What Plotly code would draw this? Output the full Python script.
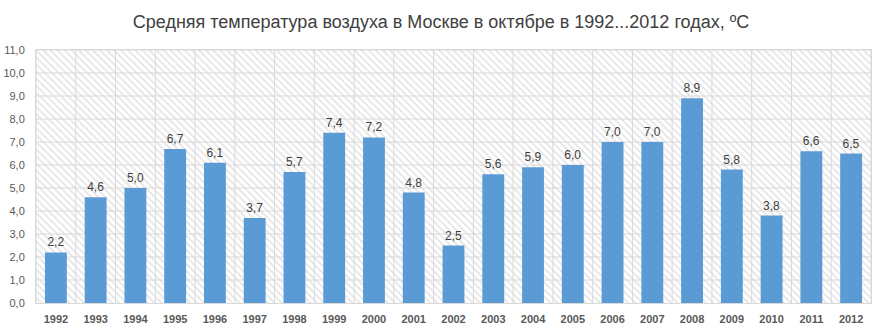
import plotly.graph_objects as go

years = [str(y) for y in range(1992, 2013)]
temps = [2.2, 4.6, 5.0, 6.7, 6.1, 3.7, 5.7, 7.4, 7.2, 4.8, 2.5,
         5.6, 5.9, 6.0, 7.0, 7.0, 8.9, 5.8, 3.8, 6.6, 6.5]
y_ticks = [i for i in range(0, 12)]
y_max = 11
title_text = "Средняя температура воздуха в Москве в октябре в 1992...2012 годах, ºС"

FONT = "Liberation Sans"
GREY = "#595959"
GRID = "#d9d9d9"

pos = list(range(len(years)))
x_range = [-0.5, len(years) - 0.5]

fig = go.Figure()

# hatched plot-area background, one full-height cell per category
fig.add_trace(go.Bar(
    x=pos, y=[y_max] * len(years), width=1,
    marker=dict(color="#cccccc", line=dict(width=0),
                pattern=dict(shape="\\", fgcolor="#cccccc", bgcolor="white",
                             fillmode="overlay", size=5, solidity=0.35)),
    hoverinfo="skip", showlegend=False,
))

# grid lines over the hatching (same subplot, below the value bars)
gx, gy = [], []
for v in y_ticks[1:]:
    gx += [x_range[0], x_range[1], None]
    gy += [v, v, None]
for i in range(len(years) + 1):
    gx += [i - 0.5, i - 0.5, None]
    gy += [0, y_max, None]
fig.add_trace(go.Scatter(x=gx, y=gy, mode="lines", line=dict(color=GRID, width=1),
                         hoverinfo="skip", showlegend=False, cliponaxis=False))

# value bars on an overlaid subplot so they sit above the grid
fig.add_trace(go.Bar(
    x=pos, y=temps, width=0.55, xaxis="x2", yaxis="y2",
    marker=dict(color="#5B9BD5", line=dict(width=0)),
    text=[f"{v:.1f}".replace(".", ",") for v in temps],
    textposition="outside", cliponaxis=False,
    textfont=dict(family=FONT, size=12, color="#404040"),
    showlegend=False,
))

fig.update_layout(
    width=882, height=328,
    margin=dict(l=36, r=11, t=50, b=25),
    paper_bgcolor="white", plot_bgcolor="white",
    barmode="overlay",
    separators=", ",
    title=dict(text=title_text, x=0.5, xanchor="center", y=0.935, yanchor="middle",
               font=dict(family=FONT, size=18, color="#404040")),
    xaxis=dict(range=x_range, tickvals=pos, ticktext=years, showgrid=False,
               zeroline=False, ticks="", showline=True, linecolor=GRID, mirror=True,
               ticklabelstandoff=6, automargin=False,
               tickfont=dict(family=FONT, size=11, color=GREY, weight="bold")),
    yaxis=dict(range=[0, y_max], tickvals=y_ticks, tickformat=".1f",
               showgrid=False, zeroline=False,
               showline=True, linecolor=GRID, mirror=True, ticks="",
               ticklabelstandoff=8, automargin=False,
               tickfont=dict(family=FONT, size=11, color=GREY)),
    xaxis2=dict(overlaying="x", range=x_range, visible=False),
    yaxis2=dict(overlaying="y", range=[0, y_max], visible=False),
)

fig.write_html("out.html")
